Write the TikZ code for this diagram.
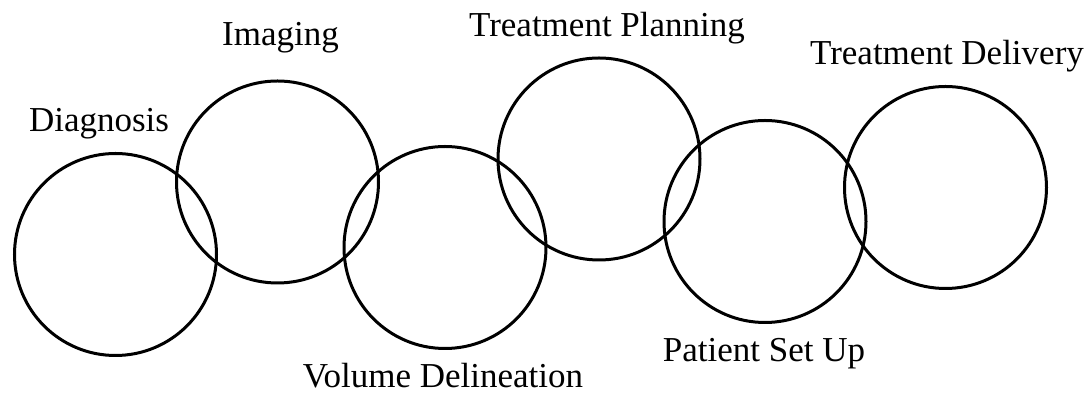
\documentclass[tikz,border=0pt]{standalone}
\usepackage{fontspec}
\setmainfont{Liberation Serif}
\usepackage{tikz}
\tikzset{
  stage/.style={ % image of one stage of the process
    draw, circle, line width=1.5pt,
    minimum size=101pt, inner sep=0pt
  },
  stagename/.style={ % caption of a stage
    anchor=base, inner sep=0pt, text=black,
    font=\fontsize{17.5}{21}\selectfont
  }
}

\begin{document}
\begin{tikzpicture}[x=0.5pt, y=-0.5pt]
      \useasboundingbox (0,0) rectangle (1088,394);

      \node[stage] (diag) at (115.5,254.5) {};
      \node[stage] (img) at (277.5,182) {};
      \node[stage] (vol) at (445,247.5) {};
      \node[stage] (plan) at (599,159) {};
      \node[stage] (setup) at (765,221.5) {};
      \node[stage] (deliv) at (945.5,187.5) {};

      \node[stagename] (diag_label) at (99,132) {Diagnosis};
      \node[stagename] (img_label) at (280.5,46) {Imaging};
      \node[stagename] (vol_label) at (443,388) {Volume Delineation};
      \node[stagename] (plan_label) at (607,37) {Treatment Planning};
      \node[stagename] (setup_label) at (764,362) {Patient Set Up};
      \node[stagename] (deliv_label) at (947,65) {Treatment Delivery};
    \end{tikzpicture}
\end{document}
